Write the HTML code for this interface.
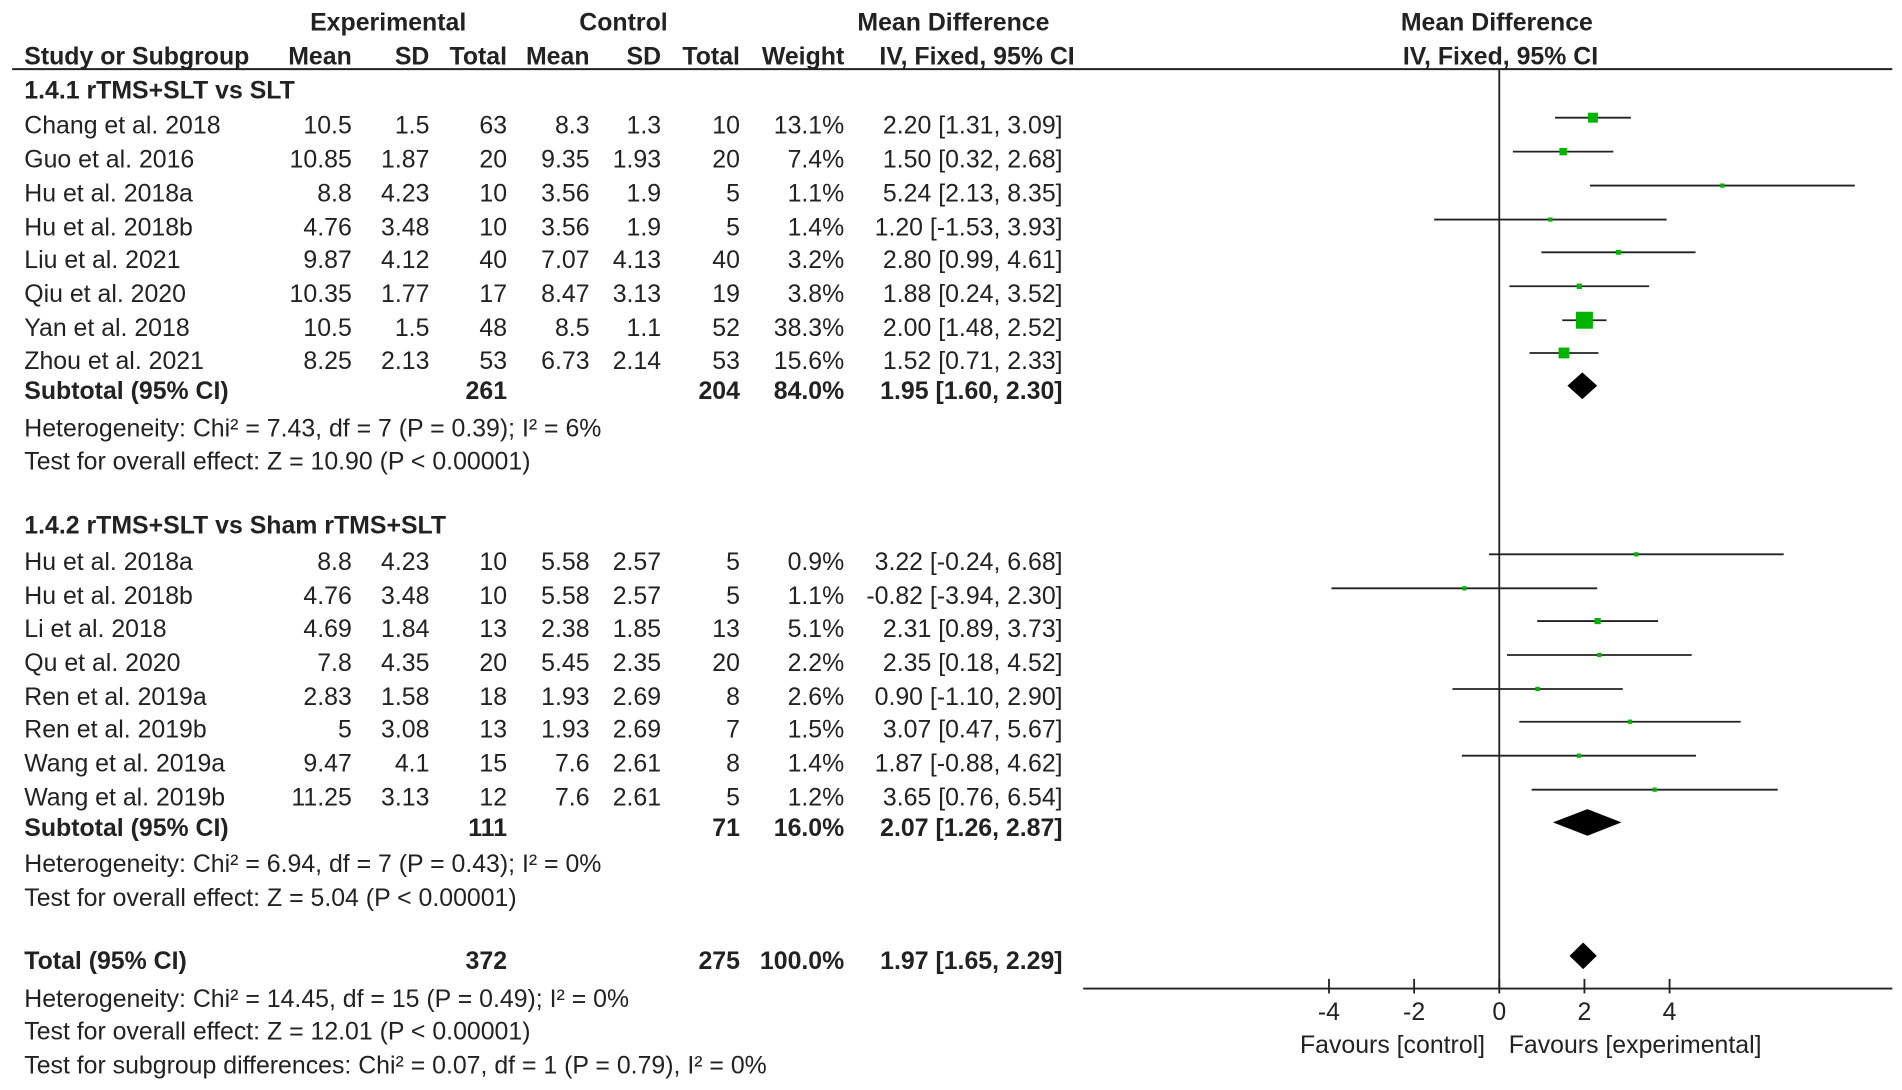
<!DOCTYPE html>
<html><head><meta charset="utf-8"><style>
html,body{margin:0;padding:0;background:#fff}
svg{display:block}
text{font-family:"Liberation Sans",Arial,sans-serif;font-size:20.5px;fill:#222}
.b{font-weight:bold}
</style></head><body>
<svg id="c" width="1902" height="1090" viewBox="0 0 1568 898.6" xmlns="http://www.w3.org/2000/svg">
<g id="txt"></g><g id="plot"></g>
</svg>
<script>
const studies = ["Chang  et al. 2018","Guo  et al. 2016","Hu et al. 2018a","Hu et al. 2018b","Liu et al. 2021","Qiu et al. 2020","Yan et al. 2018","Zhou et al. 2021",
"Hu et al. 2018a","Hu et al. 2018b","Li et al. 2018","Qu et al. 2020","Ren et al. 2019a","Ren et al. 2019b","Wang et al. 2019a","Wang et al. 2019b"];
const expMean = ["10.5","10.85","8.8","4.76","9.87","10.35","10.5","8.25","8.8","4.76","4.69","7.8","2.83","5","9.47","11.25"];
const expSD = ["1.5","1.87","4.23","3.48","4.12","1.77","1.5","2.13","4.23","3.48","1.84","4.35","1.58","3.08","4.1","3.13"];
const expN = [63,20,10,10,40,17,48,53,10,10,13,20,18,13,15,12];
const ctlMean = ["8.3","9.35","3.56","3.56","7.07","8.47","8.5","6.73","5.58","5.58","2.38","5.45","1.93","1.93","7.6","7.6"];
const ctlSD = ["1.3","1.93","1.9","1.9","4.13","3.13","1.1","2.14","2.57","2.57","1.85","2.35","2.69","2.69","2.61","2.61"];
const ctlN = [10,20,5,5,40,19,52,53,5,5,13,20,8,7,8,5];
const weight = [13.1,7.4,1.1,1.4,3.2,3.8,38.3,15.6,0.9,1.1,5.1,2.2,2.6,1.5,1.4,1.2];
const md = [2.20,1.50,5.24,1.20,2.80,1.88,2.00,1.52,3.22,-0.82,2.31,2.35,0.90,3.07,1.87,3.65];
const lo = [1.31,0.32,2.13,-1.53,0.99,0.24,1.48,0.71,-0.24,-3.94,0.89,0.18,-1.10,0.47,-0.88,0.76];
const hi = [3.09,2.68,8.35,3.93,4.61,3.52,2.52,2.33,6.68,2.30,3.73,4.52,2.90,5.67,4.62,6.54];
const subLabels = ["Subtotal (95% CI)","Subtotal (95% CI)","Total (95% CI)"];
const subExpN = [261,111,372];
const subCtlN = [204,71,275];
const subW = ["84.0%","16.0%","100.0%"];
const subMd = [1.95,2.07,1.97];
const subLo = [1.60,1.26,1.65];
const subHi = [2.30,2.87,2.29];
const ticks = [-4,-2,0,2,4];

const NS="http://www.w3.org/2000/svg";
const T=document.getElementById('txt'), P=document.getElementById('plot');
const X0=1236, UNIT=35.1;
const xs=v=>X0+v*UNIT;
const rowY=[103,131,159,187,214,242,270,297,463,491,518,546,574,601,629,657];
const subY=[322,682,792];
function mk(tag,at,par){const e=document.createElementNS(NS,tag);for(const k in at)e.setAttribute(k,at[k]);par.appendChild(e);return e;}
function tx(x,y,s,name,anchor,bold){const e=mk('text',{x:x,y:y+7,'text-anchor':anchor||'start'},T);if(bold)e.setAttribute('class','b');e.textContent=s;

return e;}
tx(320,18,"Experimental","header-experimental","middle",1);
tx(514,18,"Control","header-control","middle",1);
tx(786,18,"Mean Difference","header-mean-difference","middle",1);
tx(1234,18,"Mean Difference","header-plot-mean-difference","middle",1);
const h2=[["Study or Subgroup",20,"start"],["Mean",290,"end"],["SD",354,"end"],["Total",418,"end"],["Mean",486,"end"],["SD",545,"end"],["Total",610,"end"],["Weight",696,"end"],["IV, Fixed, 95% CI",886,"end"]];
h2.forEach(h=>tx(h[1],46,h[0],"column-header",h[2],1));
tx(1237,46,"IV, Fixed, 95% CI","header-plot-method","middle",1);
let hl=mk('line',{x1:10,y1:57,x2:1560,y2:57,stroke:'#222','stroke-width':1.6},P);


tx(20,74,"1.4.1 rTMS+SLT vs SLT","subgroup-title-1","start",1);
tx(20,433,"1.4.2 rTMS+SLT vs Sham rTMS+SLT","subgroup-title-2","start",1);
const fmt=v=>(v<0?"-":"")+Math.abs(v).toFixed(2);
studies.forEach((s,i)=>{
  const y=rowY[i];
  tx(20,y,s,"study-name");
  tx(290,y,expMean[i],"exp-mean","end");tx(354,y,expSD[i],"exp-sd","end");tx(418,y,expN[i],"exp-total","end");
  tx(486,y,ctlMean[i],"ctl-mean","end");tx(545,y,ctlSD[i],"ctl-sd","end");tx(610,y,ctlN[i],"ctl-total","end");
  tx(696,y,weight[i].toFixed(1)+"%","weight","end");
  tx(876,y,fmt(md[i])+" ["+fmt(lo[i])+", "+fmt(hi[i])+"]","ci-text","end");
  const l=mk('line',{x1:xs(lo[i]),y1:y-6,x2:xs(hi[i]),y2:y-6,stroke:'#222','stroke-width':1.5},P);
  
  
  const sz=Math.max(3.5,22.6*Math.sqrt(weight[i]/100));
  const r=mk('rect',{x:xs(md[i])-sz/2,y:y-6-sz/2,width:sz,height:sz,fill:'#00b400'},P);
  
  
});
subLabels.forEach((s,i)=>{
  const y=subY[i];
  tx(20,y,s,"subtotal-label","start",1);
  tx(418,y,subExpN[i],"subtotal-exp-total","end",1);
  tx(610,y,subCtlN[i],"subtotal-ctl-total","end",1);
  tx(696,y,subW[i],"subtotal-weight","end",1);
  tx(876,y,subMd[i].toFixed(2)+" ["+subLo[i].toFixed(2)+", "+subHi[i].toFixed(2)+"]","subtotal-ci","end",1);
  const yc=y-4;
  const d=mk('polygon',{points:`${xs(subLo[i])},${yc} ${xs(subMd[i])},${yc-11} ${xs(subHi[i])},${yc} ${xs(subMd[i])},${yc+11}`,fill:'#000'},P);
  
  
});
const notes=[[353,"Heterogeneity: Chi² = 7.43, df = 7 (P = 0.39); I² = 6%"],[380,"Test for overall effect: Z = 10.90 (P < 0.00001)"],
[712,"Heterogeneity: Chi² = 6.94, df = 7 (P = 0.43); I² = 0%"],[740,"Test for overall effect: Z = 5.04 (P < 0.00001)"],
[823,"Heterogeneity: Chi² = 14.45, df = 15 (P = 0.49); I² = 0%"],[850,"Test for overall effect: Z = 12.01 (P < 0.00001)"],
[878,"Test for subgroup differences: Chi² = 0.07, df = 1 (P = 0.79), I² = 0%"]];
notes.forEach(n=>tx(20,n[0],n[1],"statistics-note"));
const vz=mk('line',{x1:xs(0),y1:57,x2:xs(0),y2:815,stroke:'#222','stroke-width':1.5},P);


const ax=mk('line',{x1:893,y1:815,x2:1560,y2:815,stroke:'#222','stroke-width':1.5},P);


ticks.forEach(t=>{
  const l=mk('line',{x1:xs(t),y1:807,x2:xs(t),y2:819,stroke:'#222','stroke-width':1.5},P);
  
  
  tx(xs(t),834,String(t),"x-tick-label","middle");
});
tx(1148,861,"Favours [control]","favours-control-label","middle");
tx(1348,861,"Favours [experimental]","favours-experimental-label","middle");
</script>
</body></html>
